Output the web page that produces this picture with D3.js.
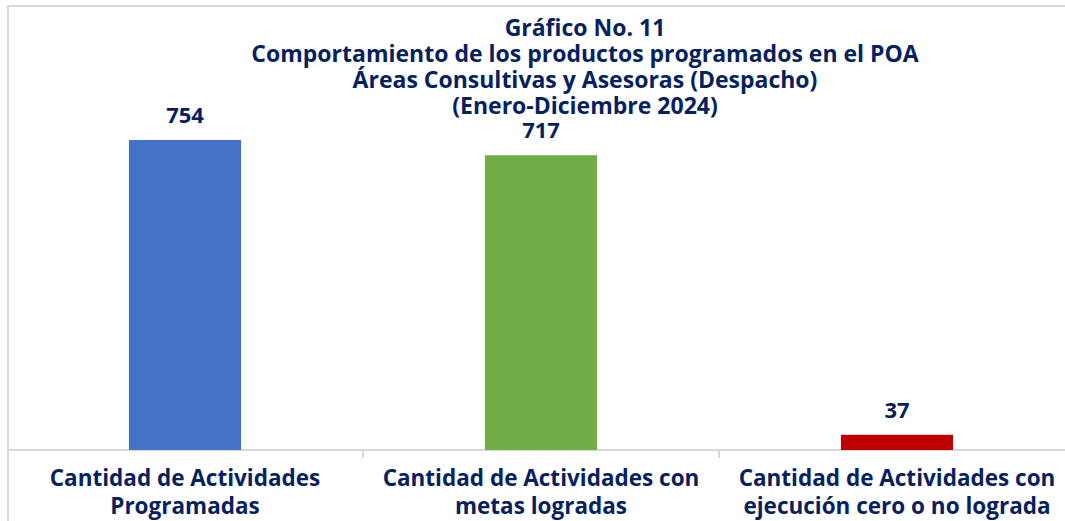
<!DOCTYPE html>
<html>
<head>
<meta charset="utf-8">
<script src="https://cdn.jsdelivr.net/npm/d3@7"></script>
<style>
  html, body { margin: 0; padding: 0; background: #fff; }
  text { font-family: "Open Sans", Lato, sans-serif; font-weight: 700; fill: #062160; }
</style>
</head>
<body>
<div id="viz"></div>
<script>
const width = 1065;
const height = 521;
const margin = {top: 80, right: -10, bottom: 71, left: 7};

// Data
const categories = [
  ['Cantidad de Actividades', 'Programadas'],
  ['Cantidad de Actividades con', 'metas logradas'],
  ['Cantidad de Actividades con', 'ejecución cero o no lograda']
];
const values = [754, 717, 37];
const barColors = ['#4472C4', '#70AD47', '#C00000'];
const titleLines = [
  'Gráfico No. 11',
  'Comportamiento de los productos programados en el POA',
  'Áreas Consultivas y Asesoras (Despacho)',
  '(Enero-Diciembre 2024)'
];

const svg = d3.select('#viz')
  .append('svg')
    .attr('width', width)
    .attr('height', height)
    .attr('viewBox', `0 0 ${width} ${height}`);

// Chart frame (left and top edges visible)
svg.append('path')
  .attr('d', `M8,${height} V6 H${width}`)
  .attr('fill', 'none')
  .attr('stroke', '#d9d9d9')
  .attr('stroke-width', 2);

// Scales
const xScale = d3.scaleBand()
  .domain(d3.range(values.length))
  .range([margin.left, width - margin.right]);
const yScale = d3.scaleLinear()
  .domain([0, 900])
  .range([height - margin.bottom, height - margin.bottom - 370]);
const barWidth = xScale.bandwidth() * 0.315;
const baseY = yScale(0);

// Axis line + tick marks between categories
svg.append('line')
  .attr('x1', margin.left)
  .attr('x2', width)
  .attr('y1', baseY)
  .attr('y2', baseY)
  .attr('stroke', '#d9d9d9')
  .attr('stroke-width', 2);

svg.selectAll('.tick-mark')
  .data(d3.range(1, values.length))
  .join('line')
    .attr('class', 'tick-mark')
    .attr('x1', d => xScale(d))
    .attr('x2', d => xScale(d))
    .attr('y1', baseY)
    .attr('y2', baseY + 8)
    .attr('stroke', '#d9d9d9')
    .attr('stroke-width', 2);

// Bars
svg.selectAll('.bar')
  .data(values)
  .join('rect')
    .attr('class', 'bar')
    .attr('x', (d, i) => xScale(i) + xScale.bandwidth() / 2 - barWidth / 2)
    .attr('y', d => yScale(d))
    .attr('width', barWidth)
    .attr('height', d => baseY - yScale(d))
    .attr('fill', (d, i) => barColors[i]);

// Value labels
svg.selectAll('.value-label')
  .data(values)
  .join('text')
    .attr('class', 'value-label')
    .attr('x', (d, i) => xScale(i) + xScale.bandwidth() / 2)
    .attr('y', d => yScale(d) - 17)
    .attr('text-anchor', 'middle')
    .style('font-size', '22px')
    .text(d => d);

// Category labels
const catGroups = svg.selectAll('.cat-label')
  .data(categories)
  .join('text')
    .attr('class', 'cat-label')
    .attr('text-anchor', 'middle')
    .style('font-size', '22.5px');
catGroups.selectAll('tspan')
  .data((d, i) => d.map(line => ({line, i})))
  .join('tspan')
    .attr('x', d => xScale(d.i) + xScale.bandwidth() / 2)
    .attr('y', (d, j) => baseY + 36 + j * 28)
    .text(d => d.line);

// Title
svg.append('text')
  .attr('class', 'title')
  .attr('text-anchor', 'middle')
  .style('font-size', '23px')
  .selectAll('tspan')
  .data(titleLines)
  .join('tspan')
    .attr('x', 585)
    .attr('y', (d, i) => 36 + i * 26)
    .text(d => d);
</script>
</body>
</html>
